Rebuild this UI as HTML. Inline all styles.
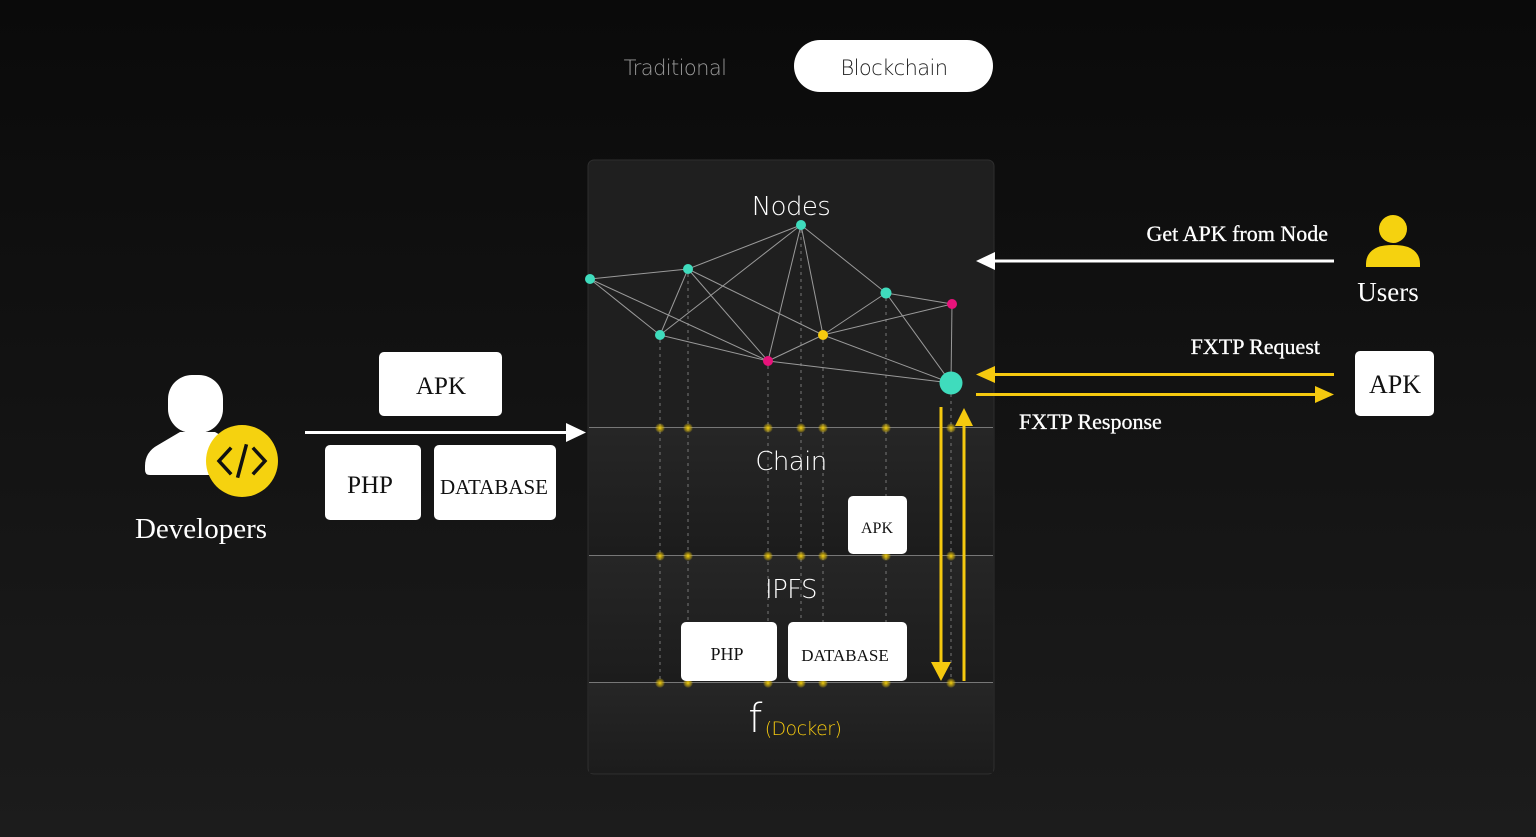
<!DOCTYPE html>
<html><head><meta charset="utf-8"><style>
html,body{margin:0;padding:0;width:1536px;height:837px;overflow:hidden;background:linear-gradient(#0a0a0a,#1c1c1c);}
svg{display:block}
.t{font-family:"DejaVu Sans","Liberation Sans",sans-serif;font-weight:200;letter-spacing:-0.6px}
.s{font-family:"Liberation Serif",serif}
</style></head><body>
<svg width="1536" height="837" viewBox="0 0 1536 837">
<defs>
<linearGradient id="bg" x1="0" y1="0" x2="0" y2="1"><stop offset="0" stop-color="#0a0a0a"/><stop offset="1" stop-color="#1c1c1c"/></linearGradient>
<linearGradient id="sec" x1="0" y1="0" x2="0" y2="1"><stop offset="0" stop-color="#262626"/><stop offset="1" stop-color="#1c1c1c"/></linearGradient>
<radialGradient id="glow"><stop offset="0" stop-color="#f5d20f"/><stop offset="0.4" stop-color="#c9a90c" stop-opacity="0.8"/><stop offset="1" stop-color="#f5d20f" stop-opacity="0"/></radialGradient>
</defs>
<rect width="1536" height="837" fill="url(#bg)"/>
<text x="675" y="75" text-anchor="middle" class="t" font-size="21" fill="#9a9a9a">Traditional</text>
<rect x="794" y="40" width="199" height="52" rx="26" fill="#fff"/>
<text x="894" y="75" text-anchor="middle" class="t" font-size="21" fill="#222">Blockchain</text>
<rect x="588" y="160" width="406" height="614" rx="6" fill="#1f1f1f" stroke="#2e2e2e"/>
<rect x="589" y="428" width="404" height="127" fill="url(#sec)"/>
<rect x="589" y="556" width="404" height="126" fill="url(#sec)"/>
<rect x="589" y="683" width="404" height="90" fill="url(#sec)"/>
<g stroke="#777" stroke-width="1"><line x1="589" y1="427.5" x2="993" y2="427.5"/><line x1="589" y1="555.5" x2="993" y2="555.5"/><line x1="589" y1="682.5" x2="993" y2="682.5"/></g>
<g stroke="#777" stroke-width="1" stroke-dasharray="3,4">
<line x1="660" y1="340" x2="660" y2="682"/><line x1="688" y1="274" x2="688" y2="682"/><line x1="768" y1="366" x2="768" y2="682"/><line x1="801" y1="230" x2="801" y2="682"/><line x1="823" y1="340" x2="823" y2="682"/><line x1="886" y1="298" x2="886" y2="682"/><line x1="951" y1="394" x2="951" y2="682"/>
</g>
<g fill="url(#glow)">
<circle cx="660" cy="428" r="5"/><circle cx="688" cy="428" r="5"/><circle cx="768" cy="428" r="5"/><circle cx="801" cy="428" r="5"/><circle cx="823" cy="428" r="5"/><circle cx="886" cy="428" r="5"/><circle cx="951" cy="428" r="5"/>
<circle cx="660" cy="556" r="5"/><circle cx="688" cy="556" r="5"/><circle cx="768" cy="556" r="5"/><circle cx="801" cy="556" r="5"/><circle cx="823" cy="556" r="5"/><circle cx="886" cy="556" r="5"/><circle cx="951" cy="556" r="5"/>
<circle cx="660" cy="683" r="5"/><circle cx="688" cy="683" r="5"/><circle cx="768" cy="683" r="5"/><circle cx="801" cy="683" r="5"/><circle cx="823" cy="683" r="5"/><circle cx="886" cy="683" r="5"/><circle cx="951" cy="683" r="5"/>
</g>
<g stroke="#9a9a9a" stroke-width="1">
<line x1="590" y1="279" x2="688" y2="269"/><line x1="590" y1="279" x2="660" y2="335"/><line x1="590" y1="279" x2="768" y2="361"/>
<line x1="688" y1="269" x2="801" y2="225"/><line x1="688" y1="269" x2="660" y2="335"/><line x1="688" y1="269" x2="768" y2="361"/><line x1="688" y1="269" x2="823" y2="335"/>
<line x1="801" y1="225" x2="660" y2="335"/><line x1="801" y1="225" x2="768" y2="361"/><line x1="801" y1="225" x2="823" y2="335"/><line x1="801" y1="225" x2="886" y2="293"/>
<line x1="660" y1="335" x2="768" y2="361"/><line x1="768" y1="361" x2="823" y2="335"/><line x1="768" y1="361" x2="951" y2="383"/>
<line x1="823" y1="335" x2="886" y2="293"/><line x1="823" y1="335" x2="952" y2="304"/><line x1="823" y1="335" x2="951" y2="383"/>
<line x1="886" y1="293" x2="952" y2="304"/><line x1="886" y1="293" x2="951" y2="383"/><line x1="952" y1="304" x2="951" y2="383"/>
</g>
<g>
<circle cx="590" cy="279" r="5" fill="#3fdcbd"/><circle cx="688" cy="269" r="5" fill="#3fdcbd"/><circle cx="801" cy="225" r="5" fill="#3fdcbd"/><circle cx="660" cy="335" r="5" fill="#3fdcbd"/>
<circle cx="768" cy="361" r="5" fill="#e8137b"/><circle cx="823" cy="335" r="5" fill="#f5c90f"/><circle cx="886" cy="293" r="5.5" fill="#3fdcbd"/><circle cx="952" cy="304" r="5" fill="#e8137b"/>
<circle cx="951" cy="383" r="11.5" fill="#3fdcbd"/>
</g>
<text x="791" y="215" text-anchor="middle" class="t" font-size="26" fill="#fff">Nodes</text>
<text x="791" y="470" text-anchor="middle" class="t" font-size="26" fill="#fff">Chain</text>
<text x="791" y="598" text-anchor="middle" class="t" font-size="26" fill="#fff">IPFS</text>
<text x="755" y="732" text-anchor="middle" class="t" font-size="40" fill="#fff">f</text>
<text x="803" y="735" text-anchor="middle" class="t" font-size="19" fill="#f5c90f">(Docker)</text>
<g fill="#fff"><rect x="848" y="496" width="59" height="58" rx="5"/><rect x="681" y="622" width="96" height="59" rx="5"/><rect x="788" y="622" width="119" height="59" rx="5"/></g>
<g class="s" fill="#111" text-anchor="middle"><text x="877" y="533" font-size="16">APK</text><text x="727" y="660" font-size="18">PHP</text><text x="845" y="661" font-size="17">DATABASE</text></g>
<g stroke="#f5c90f" stroke-width="3"><line x1="941" y1="407" x2="941" y2="665"/><line x1="964" y1="425" x2="964" y2="681"/></g>
<polygon points="931,662 951,662 941,681" fill="#f5c90f"/>
<polygon points="955,426 973,426 964,408" fill="#f5c90f"/>
<g fill="#fff"><rect x="379" y="352" width="123" height="64" rx="5"/><rect x="325" y="445" width="96" height="75" rx="5"/><rect x="434" y="445" width="122" height="75" rx="5"/></g>
<g class="s" fill="#111" text-anchor="middle"><text x="441" y="394" font-size="25">APK</text><text x="370" y="493" font-size="25">PHP</text><text x="494" y="494" font-size="21">DATABASE</text></g>
<line x1="305" y1="432.5" x2="568" y2="432.5" stroke="#fff" stroke-width="3"/>
<polygon points="566,423 586,432.5 566,442" fill="#fff"/>
<rect x="168" y="375" width="55" height="58" rx="24" fill="#fff"/>
<path d="M145,466 Q145,452 158,445 L180,432 L215,432 L238,445 Q246,452 246,466 L246,475 L150,475 Q145,475 145,470 Z" fill="#fff"/>
<circle cx="242" cy="461" r="36" fill="#f5d20f"/>
<g stroke="#111" stroke-width="3.5" fill="none" stroke-linecap="square"><polyline points="230,449 219,461 230,473"/><polyline points="254,449 265,461 254,473"/><line x1="246" y1="446" x2="238" y2="476"/></g>
<text x="201" y="538" text-anchor="middle" class="s" font-size="29" fill="#fff">Developers</text>
<text x="1328" y="241" text-anchor="end" class="s" font-size="22" fill="#fff" stroke="#fff" stroke-width="0.3">Get APK from Node</text>
<line x1="994" y1="261" x2="1334" y2="261" stroke="#fff" stroke-width="3"/>
<polygon points="976,261 995,252 995,270" fill="#fff"/>
<circle cx="1393" cy="229" r="14" fill="#f5d20f"/>
<path d="M1366,264 Q1366,252 1378,247 Q1384,245 1393,245 Q1402,245 1408,247 Q1420,252 1420,264 L1420,267 L1366,267 Z" fill="#f5d20f"/>
<text x="1388" y="301" text-anchor="middle" class="s" font-size="27" fill="#fff">Users</text>
<text x="1320" y="354" text-anchor="end" class="s" font-size="22" fill="#fff" stroke="#fff" stroke-width="0.3">FXTP Request</text>
<line x1="992" y1="374.5" x2="1334" y2="374.5" stroke="#f5c90f" stroke-width="3"/>
<polygon points="976,374.5 995,366 995,383" fill="#f5c90f"/>
<line x1="976" y1="394.5" x2="1318" y2="394.5" stroke="#f5c90f" stroke-width="3"/>
<polygon points="1334,394.5 1315,386 1315,403" fill="#f5c90f"/>
<text x="1019" y="429" class="s" font-size="22" fill="#fff" stroke="#fff" stroke-width="0.3">FXTP Response</text>
<rect x="1355" y="351" width="79" height="65" rx="5" fill="#fff"/>
<text x="1395" y="393" text-anchor="middle" class="s" font-size="26" fill="#111">APK</text>
</svg>
</body></html>
